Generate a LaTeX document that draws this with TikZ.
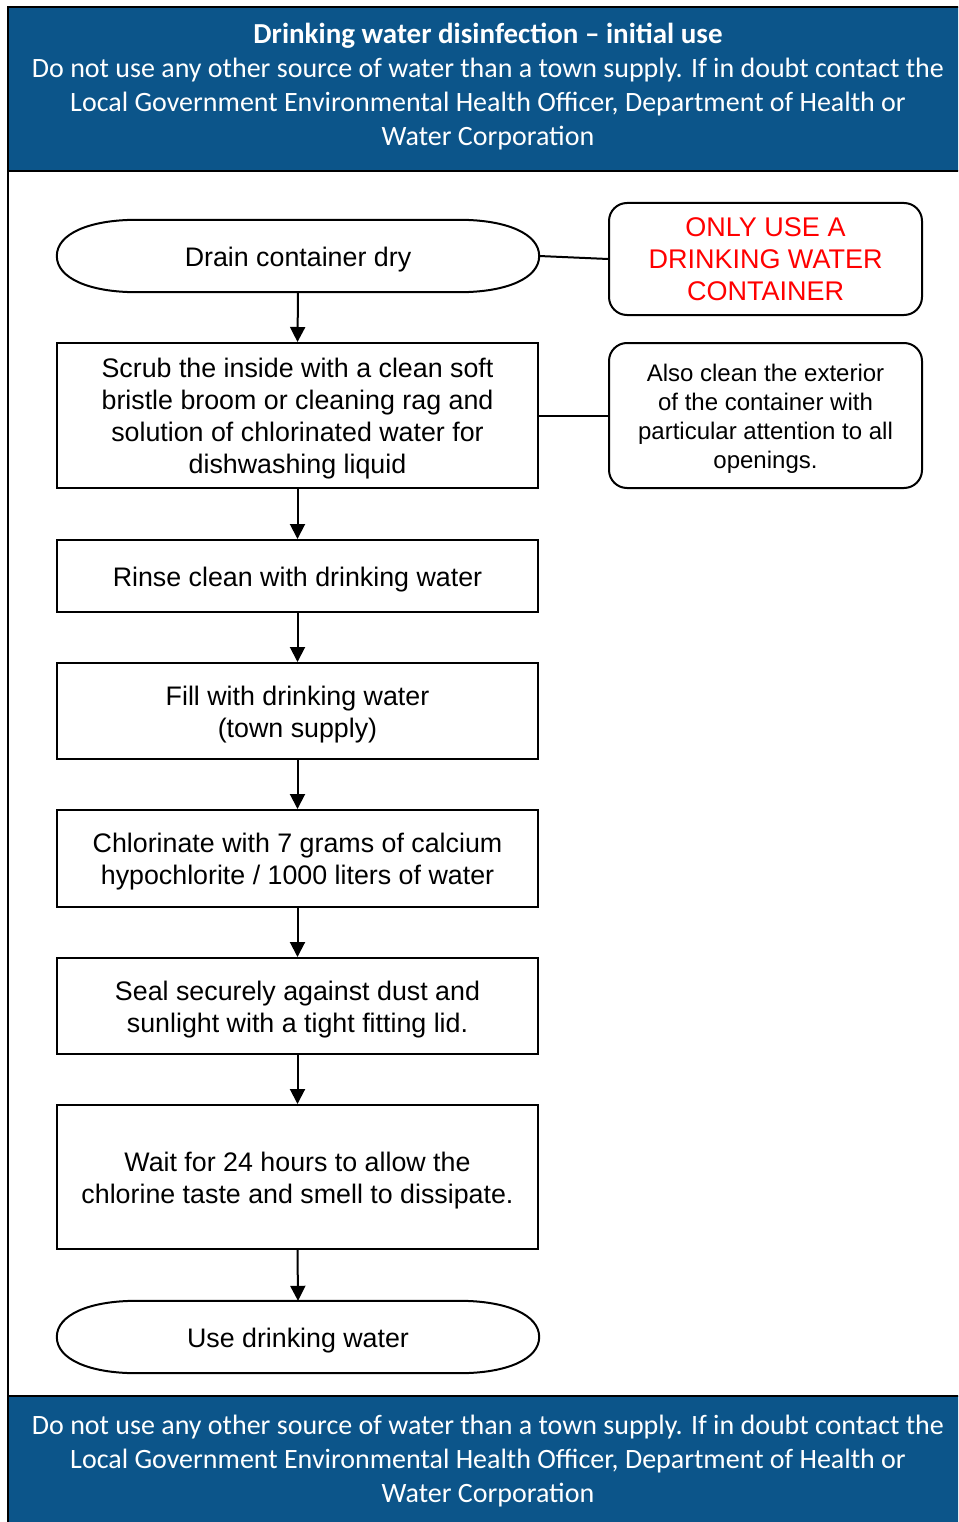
\documentclass[tikz,border=0pt]{standalone}
\usepackage{fontspec}
\setmainfont{Liberation Sans}
\newfontfamily\hdrfont{Carlito}
\usetikzlibrary{arrows.meta}
\definecolor{bandblue}{RGB}{12,85,138}
\definecolor{alertred}{RGB}{255,0,0}
\newcommand\tstrut{\rule{0pt}{26pt}}
\newcommand\nstrut{\rule{0pt}{23pt}}
\tikzset{
  stepbox/.style={draw, line width=2pt, minimum width=481pt, align=center, inner sep=0pt,
    font=\fontsize{26.8}{32}\selectfont},
  termbox/.style={minimum width=482pt, minimum height=72pt, align=center, inner sep=0pt,
    font=\fontsize{26.8}{32}\selectfont},
  notebox/.style={draw, line width=2pt, rounded corners=18pt, minimum width=313pt, align=center, inner sep=0pt},
  flow/.style={line width=2pt, -{Triangle[width=15pt,length=15pt]}},
  link/.style={line width=2pt},
  bandtext/.style={text=white, align=center, font=\hdrfont\fontsize{28}{34}\selectfont, inner sep=0pt}
}
\newcommand\termshape[1]{%
  \draw[line width=2pt] ([xshift=80pt]#1.north west) -- ([xshift=-80pt]#1.north east)
    .. controls ([xshift=-32pt]#1.north east) and ([yshift=22pt]#1.east) .. (#1.east)
    .. controls ([yshift=-22pt]#1.east) and ([xshift=-32pt]#1.south east) .. ([xshift=-80pt]#1.south east)
    -- ([xshift=80pt]#1.south west)
    .. controls ([xshift=32pt]#1.south west) and ([yshift=-22pt]#1.west) .. (#1.west)
    .. controls ([yshift=22pt]#1.west) and ([xshift=32pt]#1.north west) .. ([xshift=80pt]#1.north west) -- cycle;}
\begin{document}
\begin{tikzpicture}[x=1pt,y=-1pt]
\clip (0,0) rectangle (958,1522);
\useasboundingbox (0,0) rectangle (958,1522);
\fill[white] (0,0) rectangle (958,1522);
% bands
\fill[bandblue] (8,7) rectangle (962,171);
\fill[bandblue] (8,1396) rectangle (962,1530);
\draw[line width=2.5pt] (8,7) rectangle (962,1530);
\draw[line width=2.5pt] (8,171) -- (962,171);
\draw[line width=2.5pt] (8,1396) -- (962,1396);
% header / footer text
\node[bandtext] (hdr) at (488,87) {{\fontsize{29}{34}\selectfont\textbf{Drinking water disinfection – initial use}}\\
Do not use any other source of water than a town supply. If in doubt contact the\\
Local Government Environmental Health Officer, Department of Health or\\
Water Corporation};
\node[bandtext] (ftr) at (488,1461) {Do not use any other source of water than a town supply. If in doubt contact the\\
Local Government Environmental Health Officer, Department of Health or\\
Water Corporation};
% flow
\node[termbox] (drain) at (298,256) {\tstrut Drain container dry};
\termshape{drain}
\node[stepbox, minimum height=145pt] (scrub) at (297.5,415.5) {\tstrut Scrub the inside with a clean soft\\bristle broom or cleaning rag and\\solution of chlorinated water for\\dishwashing liquid};
\node[stepbox, minimum height=72pt] (rinse) at (297.5,576) {\tstrut Rinse clean with drinking water};
\node[stepbox, minimum height=96pt] (fill) at (297.5,711) {\tstrut Fill with drinking water\\(town supply)};
\node[stepbox, minimum height=97pt] (chlor) at (297.5,858.5) {\tstrut Chlorinate with 7 grams of calcium\\hypochlorite / 1000 liters of water};
\node[stepbox, minimum height=96pt] (seal) at (297.5,1006) {\tstrut Seal securely against dust and\\sunlight with a tight fitting lid.};
\node[stepbox, minimum height=144pt] (wait) at (297.5,1177) {\tstrut Wait for 24 hours to allow the\\chlorine taste and smell to dissipate.};
\node[termbox] (use) at (298,1337) {\tstrut Use drinking water};
\termshape{use}
% notes
\node[notebox, minimum height=112pt, text=alertred, font=\fontsize{27}{32}\selectfont] (only) at (765.5,259) {ONLY USE A\\DRINKING WATER\\CONTAINER};
\node[notebox, minimum height=145pt, font=\fontsize{24}{29}\selectfont] (also) at (765.5,415.5) {\nstrut Also clean the exterior\\of the container with\\particular attention to all\\openings.};
% connectors
\draw[flow] (drain.south) -- (scrub.north);
\draw[flow] (scrub.south) -- (rinse.north);
\draw[flow] (rinse.south) -- (fill.north);
\draw[flow] (fill.south) -- (chlor.north);
\draw[flow] (chlor.south) -- (seal.north);
\draw[flow] (seal.south) -- (wait.north);
\draw[flow] (wait.south) -- (use.north);
\draw[link] (drain.east) -- (only.west);
\draw[link] (scrub.east) -- (also.west);
\end{tikzpicture}
\end{document}
